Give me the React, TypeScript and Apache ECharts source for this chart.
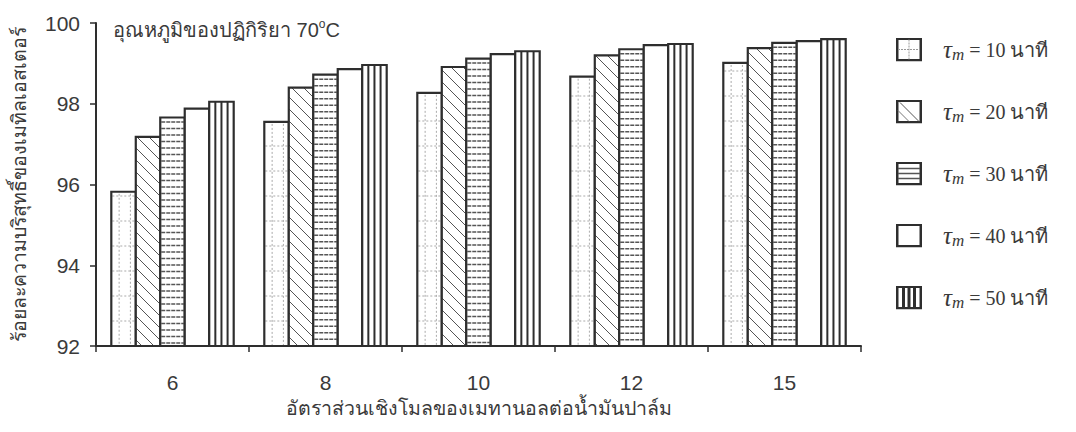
import React, { useEffect, useRef } from 'react';
import * as echarts from 'echarts';

const categories = ['6', '8', '10', '12', '15'];
const seriesNames = ['τm = 10 นาที', 'τm = 20 นาที', 'τm = 30 นาที', 'τm = 40 นาที', 'τm = 50 นาที'];
const tau10 = [95.82, 97.55, 98.27, 98.67, 99.01];
const tau20 = [97.18, 98.4, 98.91, 99.2, 99.38];
const tau30 = [97.66, 98.72, 99.12, 99.35, 99.51];
const tau40 = [97.88, 98.86, 99.23, 99.45, 99.55];
const tau50 = [98.05, 98.96, 99.3, 99.48, 99.6];
const seriesValues = [tau10, tau20, tau30, tau40, tau50];

const yMin = 92;
const yMax = 100;
const yInterval = 2;

const yAxisName = 'ร้อยละความบริสุทธิ์ของเมทิลเอสเตอร์';
const xAxisName = 'อัตราส่วนเชิงโมลของเมทานอลต่อน้ำมันปาล์ม';
const titleText = 'อุณหภูมิของปฏิกิริยา 70{o|o}C';

const LINE = '#2e2e2e';
const TEXT = '#3a3a3a';
const SANS = "'Liberation Sans', Arial, sans-serif";
const SERIF = "'Liberation Serif', 'Times New Roman', serif";

function iconSvg(kind: number): string {
  let inner = '';
  if (kind === 0) {
    inner =
      "<line x1='13' y1='2' x2='13' y2='22' stroke='#999' stroke-width='1' stroke-dasharray='2 1'/>" +
      "<line x1='2' y1='12' x2='24' y2='12' stroke='#999' stroke-width='1' stroke-dasharray='2 1'/>";
  } else if (kind === 1) {
    inner =
      "<line x1='4' y1='3' x2='23' y2='22' stroke='#555' stroke-width='1'/>" +
      "<line x1='2' y1='11' x2='13' y2='22' stroke='#777' stroke-width='1'/>";
  } else if (kind === 2) {
    inner =
      "<line x1='2' y1='7' x2='24' y2='7' stroke='#555' stroke-width='1.5'/>" +
      "<line x1='2' y1='12' x2='24' y2='12' stroke='#555' stroke-width='1.5'/>" +
      "<line x1='2' y1='17' x2='24' y2='17' stroke='#555' stroke-width='1.5'/>";
  } else if (kind === 4) {
    inner =
      "<line x1='7.5' y1='1' x2='7.5' y2='23' stroke='#2e2e2e' stroke-width='3'/>" +
      "<line x1='13' y1='1' x2='13' y2='23' stroke='#2e2e2e' stroke-width='3'/>" +
      "<line x1='18.5' y1='1' x2='18.5' y2='23' stroke='#2e2e2e' stroke-width='3'/>";
  }
  const svg =
    "<svg xmlns='http://www.w3.org/2000/svg' width='26' height='24' viewBox='0 0 26 24'>" +
    "<rect x='1.25' y='1.25' width='23.5' height='21.5' fill='white' stroke='#2e2e2e' stroke-width='2.5'/>" +
    inner +
    '</svg>';
  return 'image://data:image/svg+xml;charset=utf-8,' + encodeURIComponent(svg);
}

function makeRenderItem(kind: number) {
  return (params: any, api: any) => {
    const ci = api.value(0);
    const v = api.value(1);
    const top = api.coord([ci, v]);
    const base = api.coord([ci, yMin]);
    const band = api.size([1, 0])[0];
    const bw = band * 0.16;
    const x0 = top[0] - bw * 2.5 + kind * bw;
    const x1 = x0 + bw;
    const y0 = top[1];
    const y1 = base[1];
    const children: any[] = [];
    children.push({
      type: 'rect',
      shape: { x: x0, y: y0, width: bw, height: y1 - y0 },
      style: { fill: '#fff', stroke: 'none' },
    });
    if (kind === 0) {
      [0.32, 0.78].forEach((f) => {
        const x = x0 + bw * f;
        children.push({
          type: 'line',
          shape: { x1: x, y1: y0 + 2, x2: x, y2: y1 },
          style: { stroke: '#aaa', lineWidth: 1, lineDash: [2, 2] },
        });
      });
      for (let y = y1 - 25; y > y0 + 4; y -= 25) {
        children.push({
          type: 'line',
          shape: { x1: x0 + 1, y1: y, x2: x1 - 1, y2: y },
          style: { stroke: '#aaa', lineWidth: 1, lineDash: [2, 2] },
        });
      }
    } else if (kind === 1) {
      const s = 12;
      const kStart = Math.ceil((y0 - x1) / s) * s;
      for (let k = kStart; k <= y1 - x0; k += s) {
        const xs = Math.max(x0, y0 - k);
        const xe = Math.min(x1, y1 - k);
        if (xe - xs > 0.5) {
          children.push({
            type: 'line',
            shape: { x1: xs, y1: xs + k, x2: xe, y2: xe + k },
            style: { stroke: '#555', lineWidth: 1 },
          });
        }
      }
    } else if (kind === 2) {
      for (let y = y0 + 4.5; y < y1 - 1; y += 6.5) {
        children.push({
          type: 'line',
          shape: { x1: x0 + 1, y1: y, x2: x1 - 1, y2: y },
          style: { stroke: '#555', lineWidth: 1.5, lineDash: [4, 1] },
        });
      }
    } else if (kind === 4) {
      [0.25, 0.5, 0.75].forEach((f) => {
        const x = x0 + bw * f;
        children.push({
          type: 'line',
          shape: { x1: x, y1: y0, x2: x, y2: y1 },
          style: { stroke: LINE, lineWidth: 2 },
        });
      });
    }
    children.push({
      type: 'rect',
      shape: { x: x0, y: y0, width: bw, height: y1 - y0 },
      style: { fill: 'none', stroke: LINE, lineWidth: 2.2 },
    });
    return { type: 'group', children };
  };
}

export default function App() {
  const ref = useRef<HTMLDivElement>(null);
  useEffect(() => {
    if (!ref.current) return;
    const chart = echarts.init(ref.current, undefined, { renderer: 'svg' });
    const option: any = {
      animation: false,
      backgroundColor: '#fff',
      title: {
        text: titleText,
        left: 108,
        top: 13,
        textStyle: {
          fontFamily: SANS,
          fontSize: 20,
          fontWeight: 'normal',
          color: TEXT,
          rich: {
            o: { fontFamily: SANS, fontSize: 12, color: TEXT, padding: [0, 0, 11, 0] },
          },
        },
      },
      grid: { left: 96, right: 215, top: 23, bottom: 86, containLabel: false },
      legend: {
        orient: 'vertical',
        left: 891,
        top: 31,
        itemWidth: 26,
        itemHeight: 24,
        itemGap: 35,
        selectedMode: false,
        data: seriesNames.map((n, i) => ({ name: n, icon: iconSvg(i) })),
        formatter: (name: string) => `{t|τ}{s|m}{r|${name.slice(2)}}`,
        textStyle: {
          padding: [0, 0, 0, 16],
          rich: {
            t: { fontFamily: SERIF, fontStyle: 'italic', fontSize: 25, color: TEXT, lineHeight: 22 },
            s: { fontFamily: SERIF, fontStyle: 'italic', fontSize: 17, color: TEXT, padding: [10, 0, 0, 0], lineHeight: 22 },
            r: { fontFamily: SERIF, fontSize: 20, color: TEXT, lineHeight: 22 },
          },
        },
      },
      xAxis: {
        type: 'category',
        data: categories,
        name: xAxisName,
        nameLocation: 'middle',
        nameGap: 45,
        nameTextStyle: { fontFamily: SANS, fontSize: 19.5, color: TEXT },
        axisLine: { show: true, lineStyle: { color: LINE, width: 2 } },
        axisTick: { show: true, length: 6, alignWithLabel: false, lineStyle: { color: LINE, width: 1.5 } },
        axisLabel: { fontFamily: SANS, fontSize: 21, color: TEXT, margin: 26 },
        splitLine: { show: false },
      },
      yAxis: {
        type: 'value',
        min: yMin,
        max: yMax,
        interval: yInterval,
        name: yAxisName,
        nameLocation: 'middle',
        nameGap: 67,
        nameTextStyle: { fontFamily: SANS, fontSize: 19.5, color: TEXT },
        axisLine: { show: true, lineStyle: { color: LINE, width: 2 } },
        axisTick: { show: true, length: 6, inside: false, lineStyle: { color: LINE, width: 1.5 } },
        axisLabel: { fontFamily: SANS, fontSize: 21, color: TEXT, margin: 16 },
        splitLine: { show: false },
      },
      series: seriesValues.map((vals, i) => ({
        type: 'custom',
        name: seriesNames[i],
        itemStyle: { color: LINE },
        encode: { x: 0, y: 1 },
        data: vals.map((v, ci) => [ci, v]),
        renderItem: makeRenderItem(i),
      })),
    };
    chart.setOption(option);
    return () => chart.dispose();
  }, []);
  return (
    <div
      ref={ref}
      style={{ position: 'absolute', left: 0, top: 0, width: 1076, height: 432 }}
    />
  );
}
